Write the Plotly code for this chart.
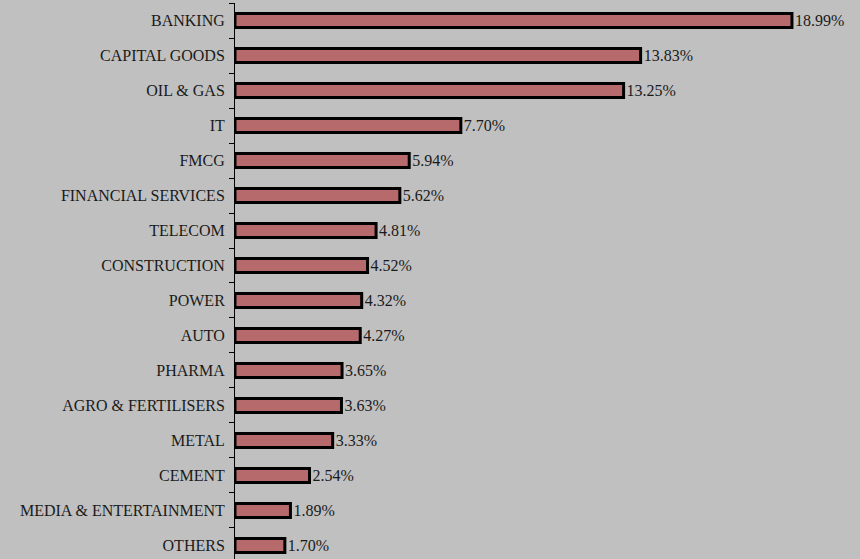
import plotly.graph_objects as go

sectors = [
    "BANKING", "CAPITAL GOODS", "OIL & GAS", "IT", "FMCG",
    "FINANCIAL SERVICES", "TELECOM", "CONSTRUCTION", "POWER", "AUTO",
    "PHARMA", "AGRO & FERTILISERS", "METAL", "CEMENT",
    "MEDIA & ENTERTAINMENT", "OTHERS",
]
weights = [18.99, 13.83, 13.25, 7.70, 5.94, 5.62, 4.81, 4.52, 4.32, 4.27,
           3.65, 3.63, 3.33, 2.54, 1.89, 1.70]
labels = [f"{w:.2f}%" for w in weights]

FONT = "Liberation Serif, Times New Roman, serif"

fig = go.Figure(
    go.Bar(
        x=weights,
        y=sectors,
        orientation="h",
        width=0.4,
        marker=dict(color="#B76A6C", line=dict(color="#000000", width=3)),
        text=labels,
        textposition="outside",
        constraintext="none",
        cliponaxis=False,
        textfont=dict(family=FONT, size=16, color="#1a1a1a"),
        hoverinfo="skip",
    )
)

fig.update_layout(
    width=860,
    height=559,
    margin=dict(l=235, r=0, t=3, b=0),
    paper_bgcolor="#C0C0C0",
    plot_bgcolor="#C0C0C0",
    showlegend=False,
    font=dict(family=FONT, size=16, color="#1a1a1a"),
    xaxis=dict(range=[0, 21.31], visible=False, fixedrange=True),
    yaxis=dict(
        type="category",
        categoryorder="array",
        categoryarray=sectors,
        range=[15.386, -0.5],
        showline=True,
        linecolor="#000000",
        linewidth=1,
        ticks="outside",
        tickson="boundaries",
        ticklen=5,
        tickcolor="#000000",
        tickwidth=1,
        showgrid=False,
        zeroline=False,
        ticklabelstandoff=6,
        tickfont=dict(family=FONT, size=16, color="#1a1a1a"),
        fixedrange=True,
    ),
)

fig.write_html("out.html")
